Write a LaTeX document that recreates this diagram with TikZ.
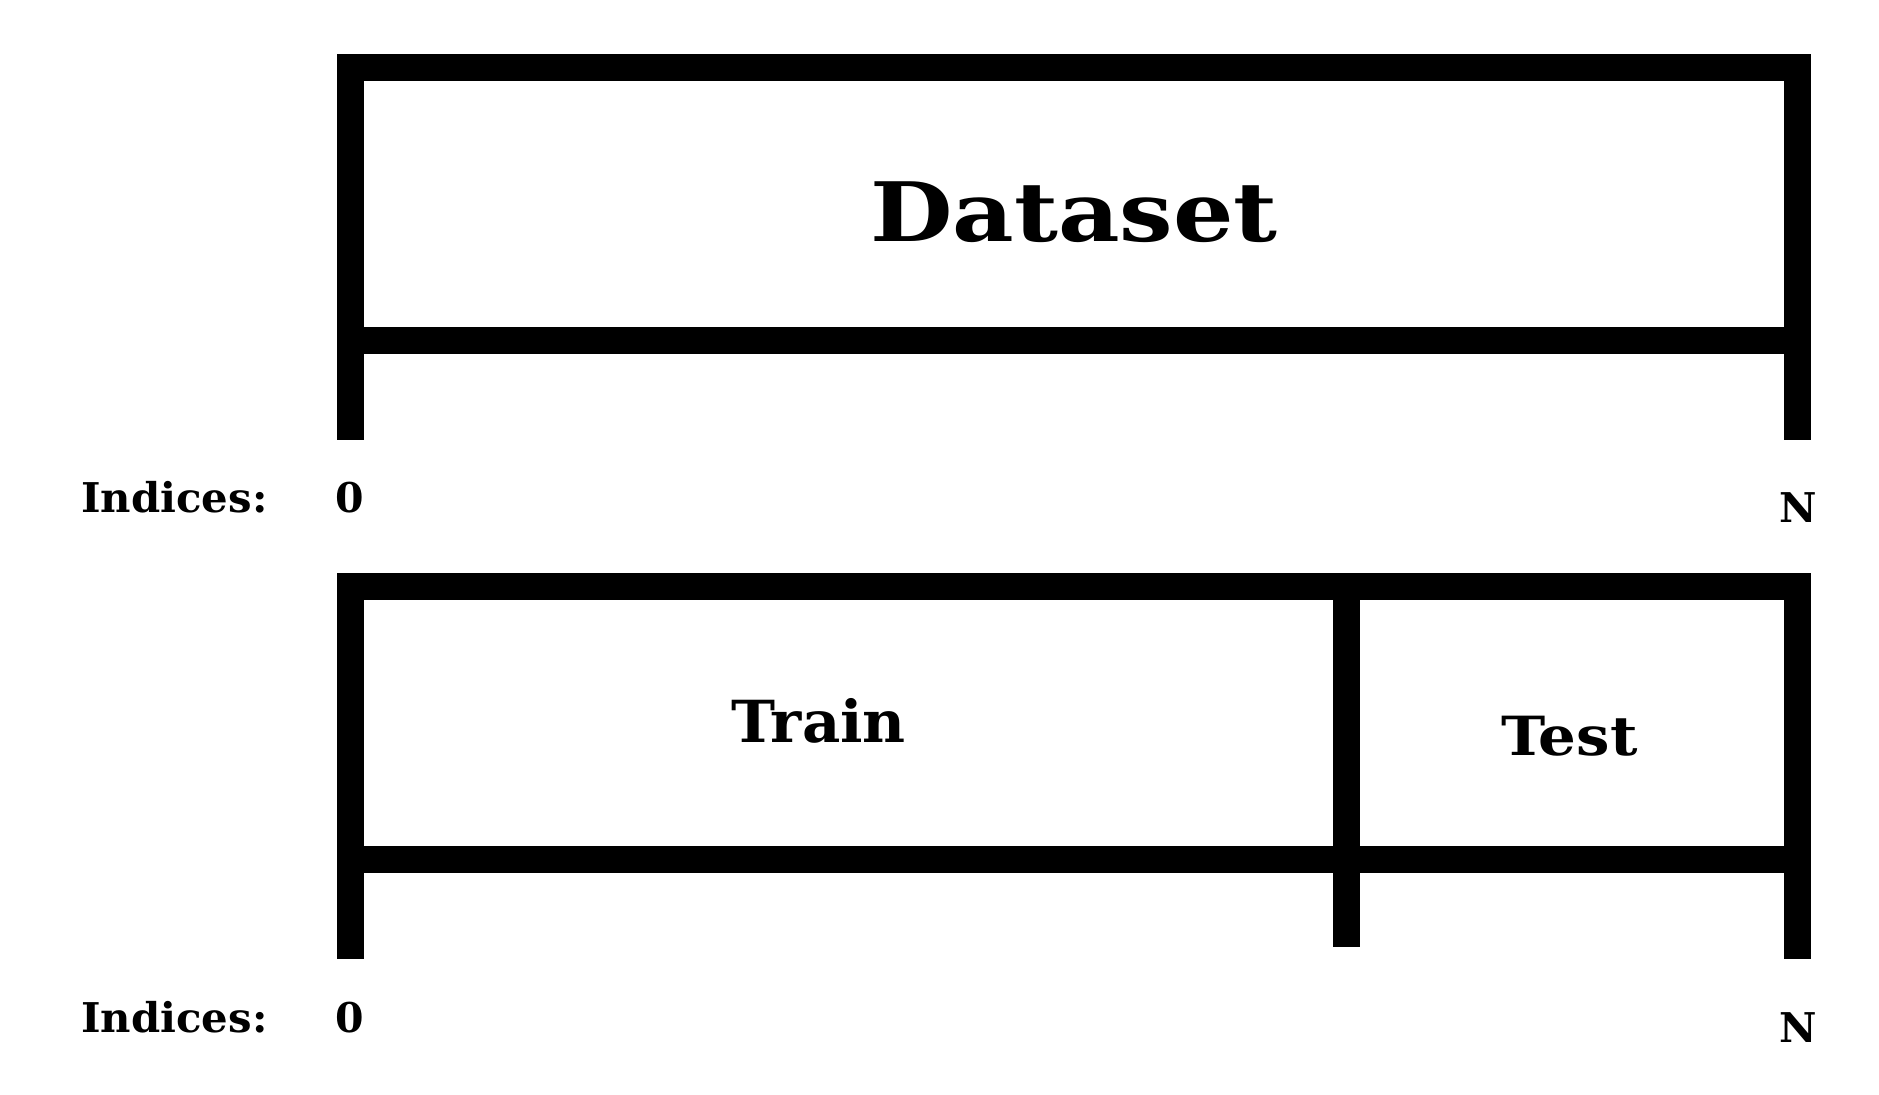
\documentclass[tikz,border=0pt]{standalone}
\usepackage{fontspec}
\setmainfont{DejaVu Serif}
\begin{document}
\begin{tikzpicture}[x=0.5pt,y=-0.5pt,
  bar/.style={fill=black,draw=none},
  lbl/.style={inner sep=0pt,anchor=base,font=\bfseries},
]
\useasboundingbox (0,0) rectangle (1879,1095);
% top box
\fill[bar] (337,54) rectangle (1811,81.5);
\fill[bar] (337,327) rectangle (1811,354);
\fill[bar] (337,54) rectangle (364,440);
\fill[bar] (1784,54) rectangle (1811,440);
% bottom box
\fill[bar] (337,573) rectangle (1811,600);
\fill[bar] (337,846) rectangle (1811,873);
\fill[bar] (337,573) rectangle (364,959);
\fill[bar] (1784,573) rectangle (1811,959);
\fill[bar] (1333,573) rectangle (1360,947);
% texts
\node[lbl] (dataset) at (1074,241.7) {\fontsize{41}{49}\selectfont\scalebox{1.16}[1]{Dataset}};
\node[lbl] (train) at (818.5,742) {\fontsize{29}{35}\selectfont\scalebox{1.02}[1]{Train}};
\node[lbl] (test) at (1569.5,755) {\fontsize{27}{33}\selectfont\scalebox{1.1}[1]{Test}};
\node[lbl,anchor=base west] (ind1) at (81,513) {\fontsize{20.5}{25}\selectfont\scalebox{1.02}[1]{Indices:}};
\node[lbl] (zero1) at (350,513) {\fontsize{20.5}{25}\selectfont 0};
\node[lbl] (n1) at (1798,523) {\fontsize{20.5}{25}\selectfont N};
\node[lbl,anchor=base west] (ind2) at (81,1032) {\fontsize{20.5}{25}\selectfont\scalebox{1.02}[1]{Indices:}};
\node[lbl] (zero2) at (350,1032) {\fontsize{20.5}{25}\selectfont 0};
\node[lbl] (n2) at (1798,1042) {\fontsize{20.5}{25}\selectfont N};
\end{tikzpicture}
\end{document}
